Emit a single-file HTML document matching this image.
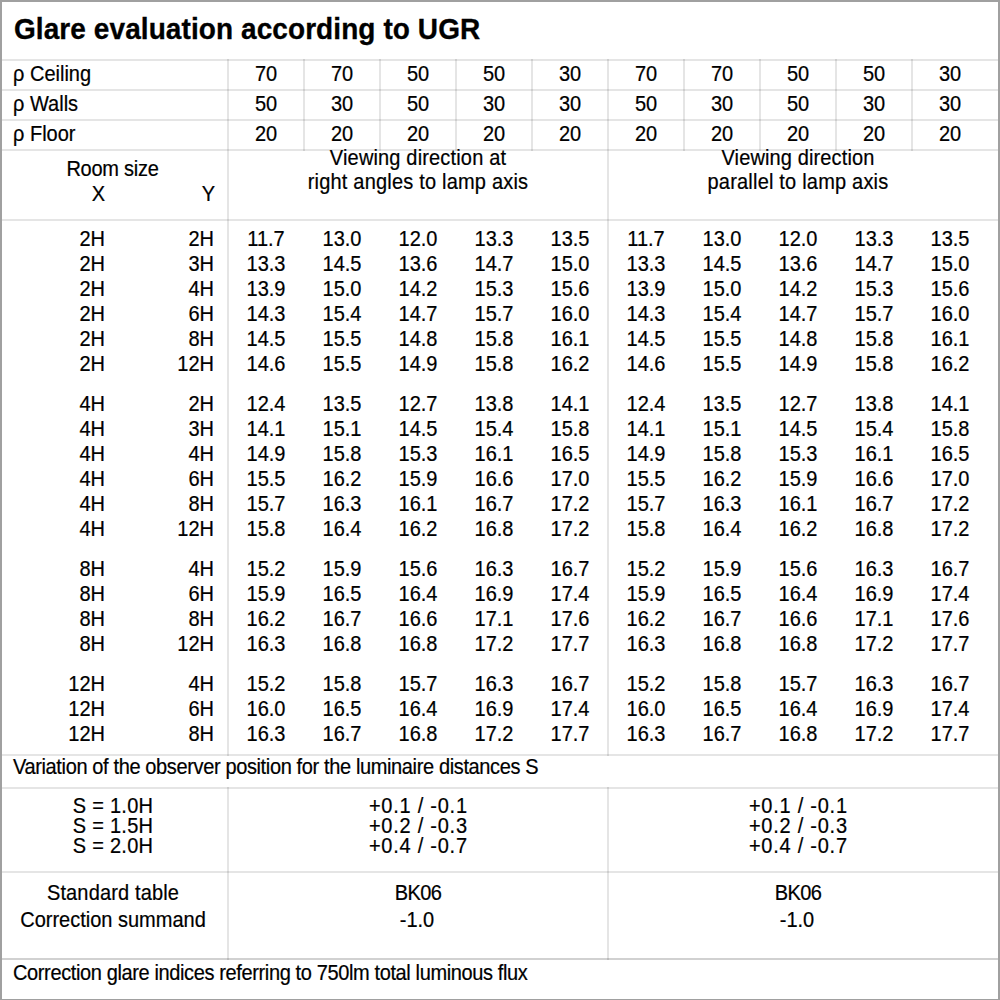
<!DOCTYPE html>
<html><head><meta charset="utf-8"><style>
html,body{margin:0;padding:0;background:#fff;}
body{width:1000px;height:1000px;position:relative;overflow:hidden;font-family:"Liberation Sans",sans-serif;color:#000;}
.t{position:absolute;white-space:nowrap;transform:scaleY(1.07);transform-origin:0 17px;-webkit-text-stroke:0.2px #000;}
.tb{transform:scaleY(1.05);transform-origin:0 24px;-webkit-text-stroke:0.3px #000;}
.l{position:absolute;}
</style></head><body>
<div class="l" style="left:2px;top:59px;width:996px;height:2px;background:rgba(0,0,0,0.1)"></div>
<div class="l" style="left:2px;top:89px;width:996px;height:2px;background:rgba(0,0,0,0.1)"></div>
<div class="l" style="left:2px;top:119px;width:996px;height:2px;background:rgba(0,0,0,0.1)"></div>
<div class="l" style="left:2px;top:149px;width:996px;height:2px;background:rgba(0,0,0,0.1)"></div>
<div class="l" style="left:2px;top:219px;width:996px;height:2px;background:rgba(0,0,0,0.1)"></div>
<div class="l" style="left:2px;top:754px;width:996px;height:2px;background:rgba(0,0,0,0.1)"></div>
<div class="l" style="left:2px;top:787px;width:996px;height:2px;background:rgba(0,0,0,0.1)"></div>
<div class="l" style="left:2px;top:871px;width:996px;height:2px;background:rgba(0,0,0,0.1)"></div>
<div class="l" style="left:2px;top:958px;width:996px;height:2px;background:rgba(0,0,0,0.18)"></div>
<div class="l" style="left:227px;top:59px;width:2px;height:92px;background:rgba(0,0,0,0.1)"></div>
<div class="l" style="left:303px;top:59px;width:2px;height:92px;background:rgba(0,0,0,0.1)"></div>
<div class="l" style="left:379px;top:59px;width:2px;height:92px;background:rgba(0,0,0,0.1)"></div>
<div class="l" style="left:455px;top:59px;width:2px;height:92px;background:rgba(0,0,0,0.1)"></div>
<div class="l" style="left:531px;top:59px;width:2px;height:92px;background:rgba(0,0,0,0.1)"></div>
<div class="l" style="left:607px;top:59px;width:2px;height:92px;background:rgba(0,0,0,0.1)"></div>
<div class="l" style="left:683px;top:59px;width:2px;height:92px;background:rgba(0,0,0,0.1)"></div>
<div class="l" style="left:759px;top:59px;width:2px;height:92px;background:rgba(0,0,0,0.1)"></div>
<div class="l" style="left:835px;top:59px;width:2px;height:92px;background:rgba(0,0,0,0.1)"></div>
<div class="l" style="left:911px;top:59px;width:2px;height:92px;background:rgba(0,0,0,0.1)"></div>
<div class="l" style="left:227px;top:151px;width:2px;height:605px;background:rgba(0,0,0,0.1)"></div>
<div class="l" style="left:607px;top:151px;width:2px;height:605px;background:rgba(0,0,0,0.1)"></div>
<div class="l" style="left:227px;top:787px;width:2px;height:173px;background:rgba(0,0,0,0.1)"></div>
<div class="l" style="left:607px;top:787px;width:2px;height:173px;background:rgba(0,0,0,0.1)"></div>
<div class="l" style="left:0;top:0;width:1000px;height:2px;background:#a0a0a0"></div>
<div class="l" style="left:0;top:0;width:2px;height:1000px;background:#a0a0a0"></div>
<div class="l" style="left:998px;top:0;width:2px;height:1000px;background:#a0a0a0"></div>
<div class="l" style="left:0;top:999px;width:1000px;height:1px;background:#a0a0a0"></div>
<div class="t tb" style="top:16px;font-size:28px;line-height:28px;font-weight:bold;left:14px;letter-spacing:0.08px;">Glare evaluation according to UGR</div>
<div class="t" style="top:64px;font-size:20px;line-height:20px;left:13px;">ρ Ceiling</div>
<div class="t" style="top:64px;font-size:20px;line-height:20px;left:231.0px;width:70px;text-align:center;">70</div>
<div class="t" style="top:64px;font-size:20px;line-height:20px;left:307.0px;width:70px;text-align:center;">70</div>
<div class="t" style="top:64px;font-size:20px;line-height:20px;left:383.0px;width:70px;text-align:center;">50</div>
<div class="t" style="top:64px;font-size:20px;line-height:20px;left:459.0px;width:70px;text-align:center;">50</div>
<div class="t" style="top:64px;font-size:20px;line-height:20px;left:535.0px;width:70px;text-align:center;">30</div>
<div class="t" style="top:64px;font-size:20px;line-height:20px;left:611.0px;width:70px;text-align:center;">70</div>
<div class="t" style="top:64px;font-size:20px;line-height:20px;left:687.0px;width:70px;text-align:center;">70</div>
<div class="t" style="top:64px;font-size:20px;line-height:20px;left:763.0px;width:70px;text-align:center;">50</div>
<div class="t" style="top:64px;font-size:20px;line-height:20px;left:839.0px;width:70px;text-align:center;">50</div>
<div class="t" style="top:64px;font-size:20px;line-height:20px;left:915.0px;width:70px;text-align:center;">30</div>
<div class="t" style="top:94px;font-size:20px;line-height:20px;left:13px;">ρ Walls</div>
<div class="t" style="top:94px;font-size:20px;line-height:20px;left:231.0px;width:70px;text-align:center;">50</div>
<div class="t" style="top:94px;font-size:20px;line-height:20px;left:307.0px;width:70px;text-align:center;">30</div>
<div class="t" style="top:94px;font-size:20px;line-height:20px;left:383.0px;width:70px;text-align:center;">50</div>
<div class="t" style="top:94px;font-size:20px;line-height:20px;left:459.0px;width:70px;text-align:center;">30</div>
<div class="t" style="top:94px;font-size:20px;line-height:20px;left:535.0px;width:70px;text-align:center;">30</div>
<div class="t" style="top:94px;font-size:20px;line-height:20px;left:611.0px;width:70px;text-align:center;">50</div>
<div class="t" style="top:94px;font-size:20px;line-height:20px;left:687.0px;width:70px;text-align:center;">30</div>
<div class="t" style="top:94px;font-size:20px;line-height:20px;left:763.0px;width:70px;text-align:center;">50</div>
<div class="t" style="top:94px;font-size:20px;line-height:20px;left:839.0px;width:70px;text-align:center;">30</div>
<div class="t" style="top:94px;font-size:20px;line-height:20px;left:915.0px;width:70px;text-align:center;">30</div>
<div class="t" style="top:124px;font-size:20px;line-height:20px;left:13px;">ρ Floor</div>
<div class="t" style="top:124px;font-size:20px;line-height:20px;left:231.0px;width:70px;text-align:center;">20</div>
<div class="t" style="top:124px;font-size:20px;line-height:20px;left:307.0px;width:70px;text-align:center;">20</div>
<div class="t" style="top:124px;font-size:20px;line-height:20px;left:383.0px;width:70px;text-align:center;">20</div>
<div class="t" style="top:124px;font-size:20px;line-height:20px;left:459.0px;width:70px;text-align:center;">20</div>
<div class="t" style="top:124px;font-size:20px;line-height:20px;left:535.0px;width:70px;text-align:center;">20</div>
<div class="t" style="top:124px;font-size:20px;line-height:20px;left:611.0px;width:70px;text-align:center;">20</div>
<div class="t" style="top:124px;font-size:20px;line-height:20px;left:687.0px;width:70px;text-align:center;">20</div>
<div class="t" style="top:124px;font-size:20px;line-height:20px;left:763.0px;width:70px;text-align:center;">20</div>
<div class="t" style="top:124px;font-size:20px;line-height:20px;left:839.0px;width:70px;text-align:center;">20</div>
<div class="t" style="top:124px;font-size:20px;line-height:20px;left:915.0px;width:70px;text-align:center;">20</div>
<div class="t" style="top:159px;font-size:20px;line-height:20px;left:12.5px;width:200px;text-align:center;letter-spacing:-0.25px;">Room size</div>
<div class="t" style="top:184px;font-size:20px;line-height:20px;left:65px;width:40px;text-align:right;">X</div>
<div class="t" style="top:184px;font-size:20px;line-height:20px;left:175px;width:40px;text-align:right;">Y</div>
<div class="t" style="top:148px;font-size:20px;line-height:20px;left:238.0px;width:360px;text-align:center;letter-spacing:0.16px;">Viewing direction at</div>
<div class="t" style="top:172px;font-size:20px;line-height:20px;left:238.0px;width:360px;text-align:center;letter-spacing:0.2px;">right angles to lamp axis</div>
<div class="t" style="top:148px;font-size:20px;line-height:20px;left:618.0px;width:360px;text-align:center;letter-spacing:0.13px;">Viewing direction</div>
<div class="t" style="top:172px;font-size:20px;line-height:20px;left:618.0px;width:360px;text-align:center;letter-spacing:0.2px;">parallel to lamp axis</div>
<div class="t" style="top:229px;font-size:20px;line-height:20px;left:45px;width:60px;text-align:right;">2H</div>
<div class="t" style="top:229px;font-size:20px;line-height:20px;left:154px;width:60px;text-align:right;">2H</div>
<div class="t" style="top:229px;font-size:20px;line-height:20px;left:231.0px;width:70px;text-align:center;">11.7</div>
<div class="t" style="top:229px;font-size:20px;line-height:20px;left:307.0px;width:70px;text-align:center;">13.0</div>
<div class="t" style="top:229px;font-size:20px;line-height:20px;left:383.0px;width:70px;text-align:center;">12.0</div>
<div class="t" style="top:229px;font-size:20px;line-height:20px;left:459.0px;width:70px;text-align:center;">13.3</div>
<div class="t" style="top:229px;font-size:20px;line-height:20px;left:535.0px;width:70px;text-align:center;">13.5</div>
<div class="t" style="top:229px;font-size:20px;line-height:20px;left:611.0px;width:70px;text-align:center;">11.7</div>
<div class="t" style="top:229px;font-size:20px;line-height:20px;left:687.0px;width:70px;text-align:center;">13.0</div>
<div class="t" style="top:229px;font-size:20px;line-height:20px;left:763.0px;width:70px;text-align:center;">12.0</div>
<div class="t" style="top:229px;font-size:20px;line-height:20px;left:839.0px;width:70px;text-align:center;">13.3</div>
<div class="t" style="top:229px;font-size:20px;line-height:20px;left:915.0px;width:70px;text-align:center;">13.5</div>
<div class="t" style="top:254px;font-size:20px;line-height:20px;left:45px;width:60px;text-align:right;">2H</div>
<div class="t" style="top:254px;font-size:20px;line-height:20px;left:154px;width:60px;text-align:right;">3H</div>
<div class="t" style="top:254px;font-size:20px;line-height:20px;left:231.0px;width:70px;text-align:center;">13.3</div>
<div class="t" style="top:254px;font-size:20px;line-height:20px;left:307.0px;width:70px;text-align:center;">14.5</div>
<div class="t" style="top:254px;font-size:20px;line-height:20px;left:383.0px;width:70px;text-align:center;">13.6</div>
<div class="t" style="top:254px;font-size:20px;line-height:20px;left:459.0px;width:70px;text-align:center;">14.7</div>
<div class="t" style="top:254px;font-size:20px;line-height:20px;left:535.0px;width:70px;text-align:center;">15.0</div>
<div class="t" style="top:254px;font-size:20px;line-height:20px;left:611.0px;width:70px;text-align:center;">13.3</div>
<div class="t" style="top:254px;font-size:20px;line-height:20px;left:687.0px;width:70px;text-align:center;">14.5</div>
<div class="t" style="top:254px;font-size:20px;line-height:20px;left:763.0px;width:70px;text-align:center;">13.6</div>
<div class="t" style="top:254px;font-size:20px;line-height:20px;left:839.0px;width:70px;text-align:center;">14.7</div>
<div class="t" style="top:254px;font-size:20px;line-height:20px;left:915.0px;width:70px;text-align:center;">15.0</div>
<div class="t" style="top:279px;font-size:20px;line-height:20px;left:45px;width:60px;text-align:right;">2H</div>
<div class="t" style="top:279px;font-size:20px;line-height:20px;left:154px;width:60px;text-align:right;">4H</div>
<div class="t" style="top:279px;font-size:20px;line-height:20px;left:231.0px;width:70px;text-align:center;">13.9</div>
<div class="t" style="top:279px;font-size:20px;line-height:20px;left:307.0px;width:70px;text-align:center;">15.0</div>
<div class="t" style="top:279px;font-size:20px;line-height:20px;left:383.0px;width:70px;text-align:center;">14.2</div>
<div class="t" style="top:279px;font-size:20px;line-height:20px;left:459.0px;width:70px;text-align:center;">15.3</div>
<div class="t" style="top:279px;font-size:20px;line-height:20px;left:535.0px;width:70px;text-align:center;">15.6</div>
<div class="t" style="top:279px;font-size:20px;line-height:20px;left:611.0px;width:70px;text-align:center;">13.9</div>
<div class="t" style="top:279px;font-size:20px;line-height:20px;left:687.0px;width:70px;text-align:center;">15.0</div>
<div class="t" style="top:279px;font-size:20px;line-height:20px;left:763.0px;width:70px;text-align:center;">14.2</div>
<div class="t" style="top:279px;font-size:20px;line-height:20px;left:839.0px;width:70px;text-align:center;">15.3</div>
<div class="t" style="top:279px;font-size:20px;line-height:20px;left:915.0px;width:70px;text-align:center;">15.6</div>
<div class="t" style="top:304px;font-size:20px;line-height:20px;left:45px;width:60px;text-align:right;">2H</div>
<div class="t" style="top:304px;font-size:20px;line-height:20px;left:154px;width:60px;text-align:right;">6H</div>
<div class="t" style="top:304px;font-size:20px;line-height:20px;left:231.0px;width:70px;text-align:center;">14.3</div>
<div class="t" style="top:304px;font-size:20px;line-height:20px;left:307.0px;width:70px;text-align:center;">15.4</div>
<div class="t" style="top:304px;font-size:20px;line-height:20px;left:383.0px;width:70px;text-align:center;">14.7</div>
<div class="t" style="top:304px;font-size:20px;line-height:20px;left:459.0px;width:70px;text-align:center;">15.7</div>
<div class="t" style="top:304px;font-size:20px;line-height:20px;left:535.0px;width:70px;text-align:center;">16.0</div>
<div class="t" style="top:304px;font-size:20px;line-height:20px;left:611.0px;width:70px;text-align:center;">14.3</div>
<div class="t" style="top:304px;font-size:20px;line-height:20px;left:687.0px;width:70px;text-align:center;">15.4</div>
<div class="t" style="top:304px;font-size:20px;line-height:20px;left:763.0px;width:70px;text-align:center;">14.7</div>
<div class="t" style="top:304px;font-size:20px;line-height:20px;left:839.0px;width:70px;text-align:center;">15.7</div>
<div class="t" style="top:304px;font-size:20px;line-height:20px;left:915.0px;width:70px;text-align:center;">16.0</div>
<div class="t" style="top:329px;font-size:20px;line-height:20px;left:45px;width:60px;text-align:right;">2H</div>
<div class="t" style="top:329px;font-size:20px;line-height:20px;left:154px;width:60px;text-align:right;">8H</div>
<div class="t" style="top:329px;font-size:20px;line-height:20px;left:231.0px;width:70px;text-align:center;">14.5</div>
<div class="t" style="top:329px;font-size:20px;line-height:20px;left:307.0px;width:70px;text-align:center;">15.5</div>
<div class="t" style="top:329px;font-size:20px;line-height:20px;left:383.0px;width:70px;text-align:center;">14.8</div>
<div class="t" style="top:329px;font-size:20px;line-height:20px;left:459.0px;width:70px;text-align:center;">15.8</div>
<div class="t" style="top:329px;font-size:20px;line-height:20px;left:535.0px;width:70px;text-align:center;">16.1</div>
<div class="t" style="top:329px;font-size:20px;line-height:20px;left:611.0px;width:70px;text-align:center;">14.5</div>
<div class="t" style="top:329px;font-size:20px;line-height:20px;left:687.0px;width:70px;text-align:center;">15.5</div>
<div class="t" style="top:329px;font-size:20px;line-height:20px;left:763.0px;width:70px;text-align:center;">14.8</div>
<div class="t" style="top:329px;font-size:20px;line-height:20px;left:839.0px;width:70px;text-align:center;">15.8</div>
<div class="t" style="top:329px;font-size:20px;line-height:20px;left:915.0px;width:70px;text-align:center;">16.1</div>
<div class="t" style="top:354px;font-size:20px;line-height:20px;left:45px;width:60px;text-align:right;">2H</div>
<div class="t" style="top:354px;font-size:20px;line-height:20px;left:154px;width:60px;text-align:right;">12H</div>
<div class="t" style="top:354px;font-size:20px;line-height:20px;left:231.0px;width:70px;text-align:center;">14.6</div>
<div class="t" style="top:354px;font-size:20px;line-height:20px;left:307.0px;width:70px;text-align:center;">15.5</div>
<div class="t" style="top:354px;font-size:20px;line-height:20px;left:383.0px;width:70px;text-align:center;">14.9</div>
<div class="t" style="top:354px;font-size:20px;line-height:20px;left:459.0px;width:70px;text-align:center;">15.8</div>
<div class="t" style="top:354px;font-size:20px;line-height:20px;left:535.0px;width:70px;text-align:center;">16.2</div>
<div class="t" style="top:354px;font-size:20px;line-height:20px;left:611.0px;width:70px;text-align:center;">14.6</div>
<div class="t" style="top:354px;font-size:20px;line-height:20px;left:687.0px;width:70px;text-align:center;">15.5</div>
<div class="t" style="top:354px;font-size:20px;line-height:20px;left:763.0px;width:70px;text-align:center;">14.9</div>
<div class="t" style="top:354px;font-size:20px;line-height:20px;left:839.0px;width:70px;text-align:center;">15.8</div>
<div class="t" style="top:354px;font-size:20px;line-height:20px;left:915.0px;width:70px;text-align:center;">16.2</div>
<div class="t" style="top:394px;font-size:20px;line-height:20px;left:45px;width:60px;text-align:right;">4H</div>
<div class="t" style="top:394px;font-size:20px;line-height:20px;left:154px;width:60px;text-align:right;">2H</div>
<div class="t" style="top:394px;font-size:20px;line-height:20px;left:231.0px;width:70px;text-align:center;">12.4</div>
<div class="t" style="top:394px;font-size:20px;line-height:20px;left:307.0px;width:70px;text-align:center;">13.5</div>
<div class="t" style="top:394px;font-size:20px;line-height:20px;left:383.0px;width:70px;text-align:center;">12.7</div>
<div class="t" style="top:394px;font-size:20px;line-height:20px;left:459.0px;width:70px;text-align:center;">13.8</div>
<div class="t" style="top:394px;font-size:20px;line-height:20px;left:535.0px;width:70px;text-align:center;">14.1</div>
<div class="t" style="top:394px;font-size:20px;line-height:20px;left:611.0px;width:70px;text-align:center;">12.4</div>
<div class="t" style="top:394px;font-size:20px;line-height:20px;left:687.0px;width:70px;text-align:center;">13.5</div>
<div class="t" style="top:394px;font-size:20px;line-height:20px;left:763.0px;width:70px;text-align:center;">12.7</div>
<div class="t" style="top:394px;font-size:20px;line-height:20px;left:839.0px;width:70px;text-align:center;">13.8</div>
<div class="t" style="top:394px;font-size:20px;line-height:20px;left:915.0px;width:70px;text-align:center;">14.1</div>
<div class="t" style="top:419px;font-size:20px;line-height:20px;left:45px;width:60px;text-align:right;">4H</div>
<div class="t" style="top:419px;font-size:20px;line-height:20px;left:154px;width:60px;text-align:right;">3H</div>
<div class="t" style="top:419px;font-size:20px;line-height:20px;left:231.0px;width:70px;text-align:center;">14.1</div>
<div class="t" style="top:419px;font-size:20px;line-height:20px;left:307.0px;width:70px;text-align:center;">15.1</div>
<div class="t" style="top:419px;font-size:20px;line-height:20px;left:383.0px;width:70px;text-align:center;">14.5</div>
<div class="t" style="top:419px;font-size:20px;line-height:20px;left:459.0px;width:70px;text-align:center;">15.4</div>
<div class="t" style="top:419px;font-size:20px;line-height:20px;left:535.0px;width:70px;text-align:center;">15.8</div>
<div class="t" style="top:419px;font-size:20px;line-height:20px;left:611.0px;width:70px;text-align:center;">14.1</div>
<div class="t" style="top:419px;font-size:20px;line-height:20px;left:687.0px;width:70px;text-align:center;">15.1</div>
<div class="t" style="top:419px;font-size:20px;line-height:20px;left:763.0px;width:70px;text-align:center;">14.5</div>
<div class="t" style="top:419px;font-size:20px;line-height:20px;left:839.0px;width:70px;text-align:center;">15.4</div>
<div class="t" style="top:419px;font-size:20px;line-height:20px;left:915.0px;width:70px;text-align:center;">15.8</div>
<div class="t" style="top:444px;font-size:20px;line-height:20px;left:45px;width:60px;text-align:right;">4H</div>
<div class="t" style="top:444px;font-size:20px;line-height:20px;left:154px;width:60px;text-align:right;">4H</div>
<div class="t" style="top:444px;font-size:20px;line-height:20px;left:231.0px;width:70px;text-align:center;">14.9</div>
<div class="t" style="top:444px;font-size:20px;line-height:20px;left:307.0px;width:70px;text-align:center;">15.8</div>
<div class="t" style="top:444px;font-size:20px;line-height:20px;left:383.0px;width:70px;text-align:center;">15.3</div>
<div class="t" style="top:444px;font-size:20px;line-height:20px;left:459.0px;width:70px;text-align:center;">16.1</div>
<div class="t" style="top:444px;font-size:20px;line-height:20px;left:535.0px;width:70px;text-align:center;">16.5</div>
<div class="t" style="top:444px;font-size:20px;line-height:20px;left:611.0px;width:70px;text-align:center;">14.9</div>
<div class="t" style="top:444px;font-size:20px;line-height:20px;left:687.0px;width:70px;text-align:center;">15.8</div>
<div class="t" style="top:444px;font-size:20px;line-height:20px;left:763.0px;width:70px;text-align:center;">15.3</div>
<div class="t" style="top:444px;font-size:20px;line-height:20px;left:839.0px;width:70px;text-align:center;">16.1</div>
<div class="t" style="top:444px;font-size:20px;line-height:20px;left:915.0px;width:70px;text-align:center;">16.5</div>
<div class="t" style="top:469px;font-size:20px;line-height:20px;left:45px;width:60px;text-align:right;">4H</div>
<div class="t" style="top:469px;font-size:20px;line-height:20px;left:154px;width:60px;text-align:right;">6H</div>
<div class="t" style="top:469px;font-size:20px;line-height:20px;left:231.0px;width:70px;text-align:center;">15.5</div>
<div class="t" style="top:469px;font-size:20px;line-height:20px;left:307.0px;width:70px;text-align:center;">16.2</div>
<div class="t" style="top:469px;font-size:20px;line-height:20px;left:383.0px;width:70px;text-align:center;">15.9</div>
<div class="t" style="top:469px;font-size:20px;line-height:20px;left:459.0px;width:70px;text-align:center;">16.6</div>
<div class="t" style="top:469px;font-size:20px;line-height:20px;left:535.0px;width:70px;text-align:center;">17.0</div>
<div class="t" style="top:469px;font-size:20px;line-height:20px;left:611.0px;width:70px;text-align:center;">15.5</div>
<div class="t" style="top:469px;font-size:20px;line-height:20px;left:687.0px;width:70px;text-align:center;">16.2</div>
<div class="t" style="top:469px;font-size:20px;line-height:20px;left:763.0px;width:70px;text-align:center;">15.9</div>
<div class="t" style="top:469px;font-size:20px;line-height:20px;left:839.0px;width:70px;text-align:center;">16.6</div>
<div class="t" style="top:469px;font-size:20px;line-height:20px;left:915.0px;width:70px;text-align:center;">17.0</div>
<div class="t" style="top:494px;font-size:20px;line-height:20px;left:45px;width:60px;text-align:right;">4H</div>
<div class="t" style="top:494px;font-size:20px;line-height:20px;left:154px;width:60px;text-align:right;">8H</div>
<div class="t" style="top:494px;font-size:20px;line-height:20px;left:231.0px;width:70px;text-align:center;">15.7</div>
<div class="t" style="top:494px;font-size:20px;line-height:20px;left:307.0px;width:70px;text-align:center;">16.3</div>
<div class="t" style="top:494px;font-size:20px;line-height:20px;left:383.0px;width:70px;text-align:center;">16.1</div>
<div class="t" style="top:494px;font-size:20px;line-height:20px;left:459.0px;width:70px;text-align:center;">16.7</div>
<div class="t" style="top:494px;font-size:20px;line-height:20px;left:535.0px;width:70px;text-align:center;">17.2</div>
<div class="t" style="top:494px;font-size:20px;line-height:20px;left:611.0px;width:70px;text-align:center;">15.7</div>
<div class="t" style="top:494px;font-size:20px;line-height:20px;left:687.0px;width:70px;text-align:center;">16.3</div>
<div class="t" style="top:494px;font-size:20px;line-height:20px;left:763.0px;width:70px;text-align:center;">16.1</div>
<div class="t" style="top:494px;font-size:20px;line-height:20px;left:839.0px;width:70px;text-align:center;">16.7</div>
<div class="t" style="top:494px;font-size:20px;line-height:20px;left:915.0px;width:70px;text-align:center;">17.2</div>
<div class="t" style="top:519px;font-size:20px;line-height:20px;left:45px;width:60px;text-align:right;">4H</div>
<div class="t" style="top:519px;font-size:20px;line-height:20px;left:154px;width:60px;text-align:right;">12H</div>
<div class="t" style="top:519px;font-size:20px;line-height:20px;left:231.0px;width:70px;text-align:center;">15.8</div>
<div class="t" style="top:519px;font-size:20px;line-height:20px;left:307.0px;width:70px;text-align:center;">16.4</div>
<div class="t" style="top:519px;font-size:20px;line-height:20px;left:383.0px;width:70px;text-align:center;">16.2</div>
<div class="t" style="top:519px;font-size:20px;line-height:20px;left:459.0px;width:70px;text-align:center;">16.8</div>
<div class="t" style="top:519px;font-size:20px;line-height:20px;left:535.0px;width:70px;text-align:center;">17.2</div>
<div class="t" style="top:519px;font-size:20px;line-height:20px;left:611.0px;width:70px;text-align:center;">15.8</div>
<div class="t" style="top:519px;font-size:20px;line-height:20px;left:687.0px;width:70px;text-align:center;">16.4</div>
<div class="t" style="top:519px;font-size:20px;line-height:20px;left:763.0px;width:70px;text-align:center;">16.2</div>
<div class="t" style="top:519px;font-size:20px;line-height:20px;left:839.0px;width:70px;text-align:center;">16.8</div>
<div class="t" style="top:519px;font-size:20px;line-height:20px;left:915.0px;width:70px;text-align:center;">17.2</div>
<div class="t" style="top:559px;font-size:20px;line-height:20px;left:45px;width:60px;text-align:right;">8H</div>
<div class="t" style="top:559px;font-size:20px;line-height:20px;left:154px;width:60px;text-align:right;">4H</div>
<div class="t" style="top:559px;font-size:20px;line-height:20px;left:231.0px;width:70px;text-align:center;">15.2</div>
<div class="t" style="top:559px;font-size:20px;line-height:20px;left:307.0px;width:70px;text-align:center;">15.9</div>
<div class="t" style="top:559px;font-size:20px;line-height:20px;left:383.0px;width:70px;text-align:center;">15.6</div>
<div class="t" style="top:559px;font-size:20px;line-height:20px;left:459.0px;width:70px;text-align:center;">16.3</div>
<div class="t" style="top:559px;font-size:20px;line-height:20px;left:535.0px;width:70px;text-align:center;">16.7</div>
<div class="t" style="top:559px;font-size:20px;line-height:20px;left:611.0px;width:70px;text-align:center;">15.2</div>
<div class="t" style="top:559px;font-size:20px;line-height:20px;left:687.0px;width:70px;text-align:center;">15.9</div>
<div class="t" style="top:559px;font-size:20px;line-height:20px;left:763.0px;width:70px;text-align:center;">15.6</div>
<div class="t" style="top:559px;font-size:20px;line-height:20px;left:839.0px;width:70px;text-align:center;">16.3</div>
<div class="t" style="top:559px;font-size:20px;line-height:20px;left:915.0px;width:70px;text-align:center;">16.7</div>
<div class="t" style="top:584px;font-size:20px;line-height:20px;left:45px;width:60px;text-align:right;">8H</div>
<div class="t" style="top:584px;font-size:20px;line-height:20px;left:154px;width:60px;text-align:right;">6H</div>
<div class="t" style="top:584px;font-size:20px;line-height:20px;left:231.0px;width:70px;text-align:center;">15.9</div>
<div class="t" style="top:584px;font-size:20px;line-height:20px;left:307.0px;width:70px;text-align:center;">16.5</div>
<div class="t" style="top:584px;font-size:20px;line-height:20px;left:383.0px;width:70px;text-align:center;">16.4</div>
<div class="t" style="top:584px;font-size:20px;line-height:20px;left:459.0px;width:70px;text-align:center;">16.9</div>
<div class="t" style="top:584px;font-size:20px;line-height:20px;left:535.0px;width:70px;text-align:center;">17.4</div>
<div class="t" style="top:584px;font-size:20px;line-height:20px;left:611.0px;width:70px;text-align:center;">15.9</div>
<div class="t" style="top:584px;font-size:20px;line-height:20px;left:687.0px;width:70px;text-align:center;">16.5</div>
<div class="t" style="top:584px;font-size:20px;line-height:20px;left:763.0px;width:70px;text-align:center;">16.4</div>
<div class="t" style="top:584px;font-size:20px;line-height:20px;left:839.0px;width:70px;text-align:center;">16.9</div>
<div class="t" style="top:584px;font-size:20px;line-height:20px;left:915.0px;width:70px;text-align:center;">17.4</div>
<div class="t" style="top:609px;font-size:20px;line-height:20px;left:45px;width:60px;text-align:right;">8H</div>
<div class="t" style="top:609px;font-size:20px;line-height:20px;left:154px;width:60px;text-align:right;">8H</div>
<div class="t" style="top:609px;font-size:20px;line-height:20px;left:231.0px;width:70px;text-align:center;">16.2</div>
<div class="t" style="top:609px;font-size:20px;line-height:20px;left:307.0px;width:70px;text-align:center;">16.7</div>
<div class="t" style="top:609px;font-size:20px;line-height:20px;left:383.0px;width:70px;text-align:center;">16.6</div>
<div class="t" style="top:609px;font-size:20px;line-height:20px;left:459.0px;width:70px;text-align:center;">17.1</div>
<div class="t" style="top:609px;font-size:20px;line-height:20px;left:535.0px;width:70px;text-align:center;">17.6</div>
<div class="t" style="top:609px;font-size:20px;line-height:20px;left:611.0px;width:70px;text-align:center;">16.2</div>
<div class="t" style="top:609px;font-size:20px;line-height:20px;left:687.0px;width:70px;text-align:center;">16.7</div>
<div class="t" style="top:609px;font-size:20px;line-height:20px;left:763.0px;width:70px;text-align:center;">16.6</div>
<div class="t" style="top:609px;font-size:20px;line-height:20px;left:839.0px;width:70px;text-align:center;">17.1</div>
<div class="t" style="top:609px;font-size:20px;line-height:20px;left:915.0px;width:70px;text-align:center;">17.6</div>
<div class="t" style="top:634px;font-size:20px;line-height:20px;left:45px;width:60px;text-align:right;">8H</div>
<div class="t" style="top:634px;font-size:20px;line-height:20px;left:154px;width:60px;text-align:right;">12H</div>
<div class="t" style="top:634px;font-size:20px;line-height:20px;left:231.0px;width:70px;text-align:center;">16.3</div>
<div class="t" style="top:634px;font-size:20px;line-height:20px;left:307.0px;width:70px;text-align:center;">16.8</div>
<div class="t" style="top:634px;font-size:20px;line-height:20px;left:383.0px;width:70px;text-align:center;">16.8</div>
<div class="t" style="top:634px;font-size:20px;line-height:20px;left:459.0px;width:70px;text-align:center;">17.2</div>
<div class="t" style="top:634px;font-size:20px;line-height:20px;left:535.0px;width:70px;text-align:center;">17.7</div>
<div class="t" style="top:634px;font-size:20px;line-height:20px;left:611.0px;width:70px;text-align:center;">16.3</div>
<div class="t" style="top:634px;font-size:20px;line-height:20px;left:687.0px;width:70px;text-align:center;">16.8</div>
<div class="t" style="top:634px;font-size:20px;line-height:20px;left:763.0px;width:70px;text-align:center;">16.8</div>
<div class="t" style="top:634px;font-size:20px;line-height:20px;left:839.0px;width:70px;text-align:center;">17.2</div>
<div class="t" style="top:634px;font-size:20px;line-height:20px;left:915.0px;width:70px;text-align:center;">17.7</div>
<div class="t" style="top:674px;font-size:20px;line-height:20px;left:45px;width:60px;text-align:right;">12H</div>
<div class="t" style="top:674px;font-size:20px;line-height:20px;left:154px;width:60px;text-align:right;">4H</div>
<div class="t" style="top:674px;font-size:20px;line-height:20px;left:231.0px;width:70px;text-align:center;">15.2</div>
<div class="t" style="top:674px;font-size:20px;line-height:20px;left:307.0px;width:70px;text-align:center;">15.8</div>
<div class="t" style="top:674px;font-size:20px;line-height:20px;left:383.0px;width:70px;text-align:center;">15.7</div>
<div class="t" style="top:674px;font-size:20px;line-height:20px;left:459.0px;width:70px;text-align:center;">16.3</div>
<div class="t" style="top:674px;font-size:20px;line-height:20px;left:535.0px;width:70px;text-align:center;">16.7</div>
<div class="t" style="top:674px;font-size:20px;line-height:20px;left:611.0px;width:70px;text-align:center;">15.2</div>
<div class="t" style="top:674px;font-size:20px;line-height:20px;left:687.0px;width:70px;text-align:center;">15.8</div>
<div class="t" style="top:674px;font-size:20px;line-height:20px;left:763.0px;width:70px;text-align:center;">15.7</div>
<div class="t" style="top:674px;font-size:20px;line-height:20px;left:839.0px;width:70px;text-align:center;">16.3</div>
<div class="t" style="top:674px;font-size:20px;line-height:20px;left:915.0px;width:70px;text-align:center;">16.7</div>
<div class="t" style="top:699px;font-size:20px;line-height:20px;left:45px;width:60px;text-align:right;">12H</div>
<div class="t" style="top:699px;font-size:20px;line-height:20px;left:154px;width:60px;text-align:right;">6H</div>
<div class="t" style="top:699px;font-size:20px;line-height:20px;left:231.0px;width:70px;text-align:center;">16.0</div>
<div class="t" style="top:699px;font-size:20px;line-height:20px;left:307.0px;width:70px;text-align:center;">16.5</div>
<div class="t" style="top:699px;font-size:20px;line-height:20px;left:383.0px;width:70px;text-align:center;">16.4</div>
<div class="t" style="top:699px;font-size:20px;line-height:20px;left:459.0px;width:70px;text-align:center;">16.9</div>
<div class="t" style="top:699px;font-size:20px;line-height:20px;left:535.0px;width:70px;text-align:center;">17.4</div>
<div class="t" style="top:699px;font-size:20px;line-height:20px;left:611.0px;width:70px;text-align:center;">16.0</div>
<div class="t" style="top:699px;font-size:20px;line-height:20px;left:687.0px;width:70px;text-align:center;">16.5</div>
<div class="t" style="top:699px;font-size:20px;line-height:20px;left:763.0px;width:70px;text-align:center;">16.4</div>
<div class="t" style="top:699px;font-size:20px;line-height:20px;left:839.0px;width:70px;text-align:center;">16.9</div>
<div class="t" style="top:699px;font-size:20px;line-height:20px;left:915.0px;width:70px;text-align:center;">17.4</div>
<div class="t" style="top:724px;font-size:20px;line-height:20px;left:45px;width:60px;text-align:right;">12H</div>
<div class="t" style="top:724px;font-size:20px;line-height:20px;left:154px;width:60px;text-align:right;">8H</div>
<div class="t" style="top:724px;font-size:20px;line-height:20px;left:231.0px;width:70px;text-align:center;">16.3</div>
<div class="t" style="top:724px;font-size:20px;line-height:20px;left:307.0px;width:70px;text-align:center;">16.7</div>
<div class="t" style="top:724px;font-size:20px;line-height:20px;left:383.0px;width:70px;text-align:center;">16.8</div>
<div class="t" style="top:724px;font-size:20px;line-height:20px;left:459.0px;width:70px;text-align:center;">17.2</div>
<div class="t" style="top:724px;font-size:20px;line-height:20px;left:535.0px;width:70px;text-align:center;">17.7</div>
<div class="t" style="top:724px;font-size:20px;line-height:20px;left:611.0px;width:70px;text-align:center;">16.3</div>
<div class="t" style="top:724px;font-size:20px;line-height:20px;left:687.0px;width:70px;text-align:center;">16.7</div>
<div class="t" style="top:724px;font-size:20px;line-height:20px;left:763.0px;width:70px;text-align:center;">16.8</div>
<div class="t" style="top:724px;font-size:20px;line-height:20px;left:839.0px;width:70px;text-align:center;">17.2</div>
<div class="t" style="top:724px;font-size:20px;line-height:20px;left:915.0px;width:70px;text-align:center;">17.7</div>
<div class="t" style="top:757px;font-size:20px;line-height:20px;left:13px;letter-spacing:-0.368px;">Variation of the observer position for the luminaire distances S</div>
<div class="t" style="top:796px;font-size:20px;line-height:20px;left:13.0px;width:200px;text-align:center;letter-spacing:0.28px;">S = 1.0H</div>
<div class="t" style="top:796px;font-size:20px;line-height:20px;left:268.0px;width:300px;text-align:center;letter-spacing:0.75px;text-indent:0.75px;">+0.1 / -0.1</div>
<div class="t" style="top:796px;font-size:20px;line-height:20px;left:648.0px;width:300px;text-align:center;letter-spacing:0.75px;text-indent:0.75px;">+0.1 / -0.1</div>
<div class="t" style="top:816px;font-size:20px;line-height:20px;left:13.0px;width:200px;text-align:center;letter-spacing:0.28px;">S = 1.5H</div>
<div class="t" style="top:816px;font-size:20px;line-height:20px;left:268.0px;width:300px;text-align:center;letter-spacing:0.75px;text-indent:0.75px;">+0.2 / -0.3</div>
<div class="t" style="top:816px;font-size:20px;line-height:20px;left:648.0px;width:300px;text-align:center;letter-spacing:0.75px;text-indent:0.75px;">+0.2 / -0.3</div>
<div class="t" style="top:836px;font-size:20px;line-height:20px;left:13.0px;width:200px;text-align:center;letter-spacing:0.28px;">S = 2.0H</div>
<div class="t" style="top:836px;font-size:20px;line-height:20px;left:268.0px;width:300px;text-align:center;letter-spacing:0.75px;text-indent:0.75px;">+0.4 / -0.7</div>
<div class="t" style="top:836px;font-size:20px;line-height:20px;left:648.0px;width:300px;text-align:center;letter-spacing:0.75px;text-indent:0.75px;">+0.4 / -0.7</div>
<div class="t" style="top:883px;font-size:20px;line-height:20px;left:3.0px;width:220px;text-align:center;letter-spacing:0.15px;">Standard table</div>
<div class="t" style="top:910px;font-size:20px;line-height:20px;left:3.0px;width:220px;text-align:center;">Correction summand</div>
<div class="t" style="top:883px;font-size:20px;line-height:20px;left:318.0px;width:200px;text-align:center;letter-spacing:-0.6px;">BK06</div>
<div class="t" style="top:910px;font-size:20px;line-height:20px;left:317.0px;width:200px;text-align:center;">-1.0</div>
<div class="t" style="top:883px;font-size:20px;line-height:20px;left:698.0px;width:200px;text-align:center;letter-spacing:-0.6px;">BK06</div>
<div class="t" style="top:910px;font-size:20px;line-height:20px;left:697.0px;width:200px;text-align:center;">-1.0</div>
<div class="t" style="top:963px;font-size:20px;line-height:20px;left:13px;letter-spacing:-0.375px;">Correction glare indices referring to 750lm total luminous flux</div>
</body></html>
